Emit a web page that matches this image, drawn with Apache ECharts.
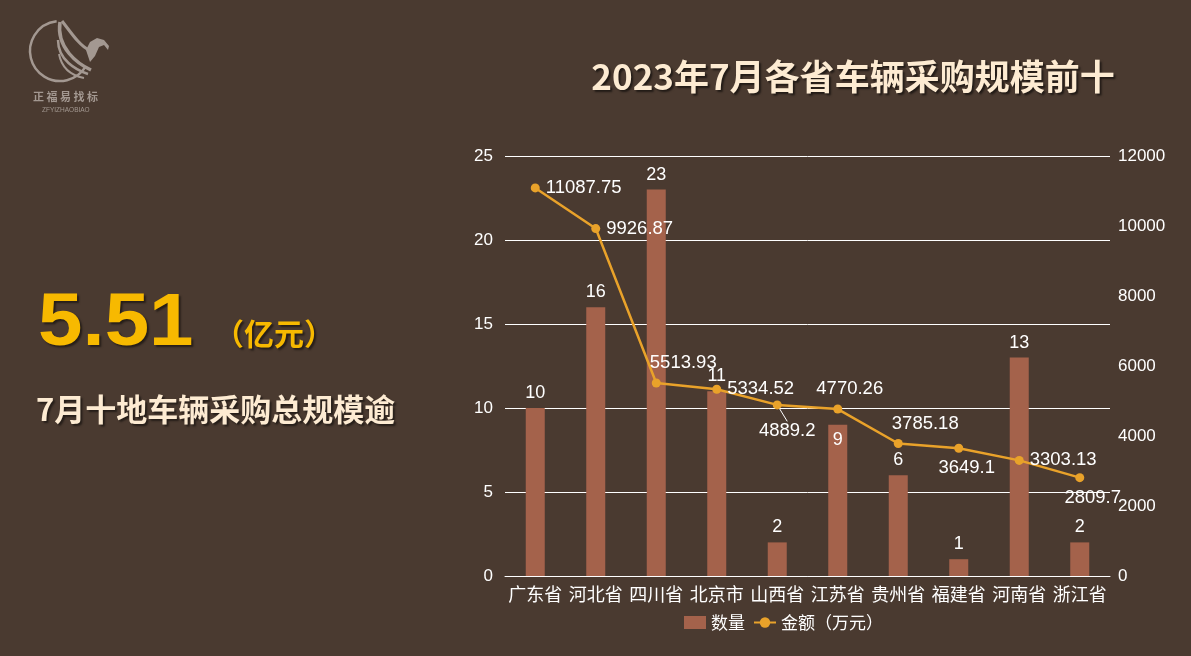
<!DOCTYPE html>
<html>
<head>
<meta charset="utf-8">
<script src="https://cdn.jsdelivr.net/npm/echarts@6/dist/echarts.min.js"></script>
<style>
html,body{margin:0;padding:0;background:#4a3a30;}
#main{width:1191px;height:656px;}
</style>
</head>
<body>
<div id="main"></div>
<script>
// ---- data ----
var categories = ['广东省','河北省','四川省','北京市','山西省','江苏省','贵州省','福建省','河南省','浙江省'];
var countValues = [10, 16, 23, 11, 2, 9, 6, 1, 13, 2];
var amountValues = [11087.75, 9926.87, 5513.93, 5334.52, 4889.2, 4770.26, 3785.18, 3649.1, 3303.13, 2809.7];
var leftTicks = { min: 0, max: 25, interval: 5 };
var rightTicks = { min: 0, max: 12000, interval: 2000 };
var titleText = '2023年7月各省车辆采购规模前十';
var bigNumber = '5.51';
var bigUnit = '（亿元）';
var subText = '7月十地车辆采购总规模逾';
var seriesNames = ['数量', '金额（万元）'];

// ---- label placement (style only) ----
var amountLabelPlace = [
  {position:'right', dx:0, dy:0},
  {position:'right', dx:0, dy:0},
  {position:'top', dx:27, dy:0},
  {position:'right', dx:0, dy:0},
  {position:'bottom', dx:10, dy:6, guide:true},
  {position:'top', dx:12, dy:0},
  {position:'top', dx:27, dy:0},
  {position:'bottom', dx:8, dy:0},
  {position:'right', dx:0, dy:0},
  {position:'bottom', dx:13, dy:0}
];
var countLabelPlace = ['top','top','top','top','top','insideTop','top','top','top','top'];

var BG = '#4a3a30';
var BAR = '#a4624b';
var LINE = '#e9a22a';
var CREAM = '#fdebd2';
var YELLOW = '#f7b900';
var LOGO = '#a39891';
var LABEL_FONT = '"Liberation Sans", Arial, sans-serif';
var CJK_FONT = '"Noto Sans CJK SC", sans-serif';

var barData = countValues.map(function(v,i){
  return { value: v, label: { position: countLabelPlace[i] } };
});
var lineData = amountValues.map(function(v,i){
  var p = amountLabelPlace[i];
  var item = { value: v, label: { position: p.position } };
  if (p.guide) { item.labelLine = { show: true, lineStyle: { color: '#ffffff', width: 1 } }; }
  return item;
});

var chart = echarts.init(document.getElementById('main'), null, {renderer:'canvas'});
chart.setOption({
  backgroundColor: BG,
  animation: false,
  title: {
    text: titleText,
    left: 848, top: 54, textAlign: 'center',
    textStyle: {
      color: CREAM, fontSize: 35, fontWeight: 'bold',
      fontFamily: CJK_FONT,
      textShadowColor: 'rgba(0,0,0,0.55)', textShadowOffsetX: 2, textShadowOffsetY: 2, textShadowBlur: 2
    }
  },
  legend: {
    bottom: 20, left: 679,
    itemWidth: 22, itemHeight: 13, itemGap: 8,
    textStyle: { color: '#ffffff', fontSize: 17, fontFamily: CJK_FONT },
    data: [
      { name: seriesNames[0], icon: 'rect' },
      { name: seriesNames[1] }
    ]
  },
  grid: { left: 505, right: 81, top: 156, bottom: 80, containLabel: false },
  xAxis: {
    type: 'category', data: categories,
    axisLine: { show: true, lineStyle: { color: '#ffffff', width: 1 } },
    axisTick: { show: false },
    axisLabel: { color: '#ffffff', fontSize: 18, margin: 9, interval: 0, fontFamily: CJK_FONT }
  },
  yAxis: [
    {
      type: 'value', min: leftTicks.min, max: leftTicks.max, interval: leftTicks.interval,
      axisLine: { show: false }, axisTick: { show: false },
      splitLine: { show: true, lineStyle: { color: '#ffffff', width: 1 } },
      axisLabel: { color: '#ffffff', fontSize: 17, margin: 12, fontFamily: LABEL_FONT }
    },
    {
      type: 'value', min: rightTicks.min, max: rightTicks.max, interval: rightTicks.interval,
      axisLine: { show: false }, axisTick: { show: false },
      splitLine: { show: false },
      axisLabel: { color: '#ffffff', fontSize: 17, margin: 8, fontFamily: LABEL_FONT,
        formatter: function(v){ return String(v); } }
    }
  ],
  series: [
    {
      name: seriesNames[0], type: 'bar', yAxisIndex: 0, barWidth: 19,
      itemStyle: { color: BAR },
      label: { show: true, color: '#ffffff', fontSize: 18, distance: 6, fontFamily: LABEL_FONT },
      data: barData
    },
    {
      name: seriesNames[1], type: 'line', yAxisIndex: 1,
      symbol: 'circle', symbolSize: 9,
      lineStyle: { color: LINE, width: 2.5 },
      itemStyle: { color: LINE },
      label: { show: true, color: '#ffffff', fontSize: 18.5, distance: 6, fontFamily: LABEL_FONT },
      labelLayout: function(params){
        var p = amountLabelPlace[params.dataIndex];
        return { dx: p.dx, dy: p.dy };
      },
      data: lineData
    }
  ],
  graphic: [
    // logo ring
    { type: 'arc', shape: { cx: 60, cy: 51, r: 30, startAngle: 0.55, endAngle: 4.6, clockwise: true },
      style: { stroke: LOGO, lineWidth: 2.5, fill: null } },
    // logo bird wing (crescent feathers)
    { type: 'bezierCurve', shape: { x1: 60, y1: 22, x2: 91, y2: 70, cpx1: 56, cpy1: 48, cpx2: 78, cpy2: 64 },
      style: { stroke: LOGO, lineWidth: 3.5, fill: null } },
    { type: 'bezierCurve', shape: { x1: 58, y1: 40, x2: 88, y2: 74, cpx1: 58, cpy1: 60, cpx2: 76, cpy2: 70 },
      style: { stroke: LOGO, lineWidth: 2.5, fill: null } },
    { type: 'bezierCurve', shape: { x1: 59, y1: 54, x2: 84, y2: 78, cpx1: 62, cpy1: 70, cpx2: 74, cpy2: 76 },
      style: { stroke: LOGO, lineWidth: 2, fill: null } },
    { type: 'bezierCurve', shape: { x1: 62, y1: 21, x2: 89, y2: 50, cpx1: 72, cpy1: 34, cpx2: 80, cpy2: 46 },
      style: { stroke: LOGO, lineWidth: 3, fill: null } },
    // head
    { type: 'polygon', shape: { points: [[86,50],[90,42],[97,38],[104,40],[109,46],[108,50],[104,45],[99,47],[95,56],[90,62]] },
      style: { fill: LOGO } },
    { type: 'text', left: 33, top: 91,
      style: { text: '正 福 易 找 标', fill: LOGO, fontSize: 11, fontWeight: 'bold', fontFamily: '"Noto Sans CJK SC", serif' } },
    { type: 'text', left: 42, top: 107,
      style: { text: 'ZFYIZHAOBIAO', fill: LOGO, fontSize: 6.5, fontFamily: '"Liberation Sans", sans-serif' } },
    // big number
    { type: 'text', left: 38, top: 288, scaleX: 1.08,
      style: { text: bigNumber, fill: YELLOW, fontSize: 74, fontWeight: 'bold',
        fontFamily: LABEL_FONT,
        textShadowColor: 'rgba(0,0,0,0.5)', textShadowOffsetX: 2, textShadowOffsetY: 2, textShadowBlur: 2 } },
    { type: 'text', left: 214, top: 319,
      style: { text: bigUnit, fill: YELLOW, fontSize: 30, fontWeight: 'bold',
        fontFamily: CJK_FONT,
        textShadowColor: 'rgba(0,0,0,0.5)', textShadowOffsetX: 2, textShadowOffsetY: 2, textShadowBlur: 2 } },
    { type: 'text', left: 36, top: 394,
      style: { text: subText, fill: CREAM, fontSize: 31, fontWeight: 'bold',
        fontFamily: CJK_FONT,
        textShadowColor: 'rgba(0,0,0,0.5)', textShadowOffsetX: 2, textShadowOffsetY: 2, textShadowBlur: 2 } }
  ]
});
</script>
</body>
</html>
